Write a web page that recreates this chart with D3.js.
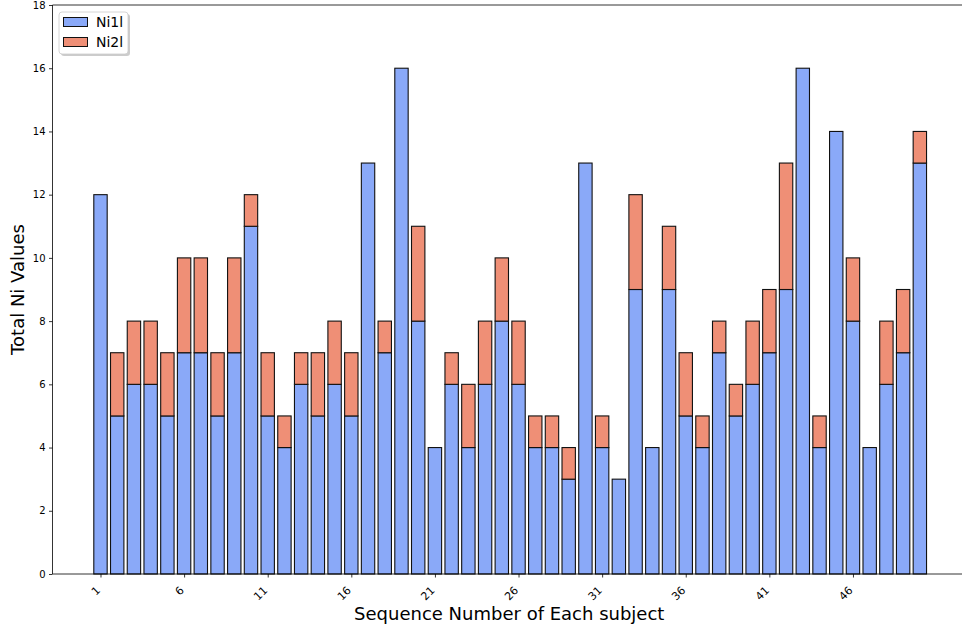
<!DOCTYPE html>
<html>
<head>
<meta charset="utf-8">
<script src="https://cdn.jsdelivr.net/npm/d3@7"></script>
<style>
  html, body { margin: 0; padding: 0; background: #fff; }
  svg { display: block; font-family: "DejaVu Sans", sans-serif; }
</style>
</head>
<body>
<svg id="chart" width="962" height="630"></svg>
<script>
const subjects = d3.range(1, 51);
const ni1l = [12,5,6,6,5,7,7,5,7,11, 5,4,6,5,6,5,13,7,16,8, 4,6,4,6,8,6,4,4,3,13, 4,3,9,4,9,5,4,7,5,6, 7,9,16,4,14,8,4,6,7,13];
const ni2l = [0,2,2,2,2,3,3,2,3,1, 2,1,1,2,2,2,0,1,0,3, 0,1,2,2,2,2,1,1,1,0, 1,0,3,0,2,2,1,1,1,2, 2,4,0,1,0,2,0,2,2,1];
const yTicks = [0,2,4,6,8,10,12,14,16,18];
const xTickSubjects = [1,6,11,16,21,26,31,36,41,46];
const seriesNames = ["Ni1l", "Ni2l"];
const seriesColors = ["#8aa9f8", "#ef8f76"];

const svg = d3.select("#chart");
const L = 52.5, R = 966, T = 5, B = 574;

const x = d3.scaleLinear().domain([-2.87, 51.76]).range([L, R]);
const y = d3.scaleLinear().domain([0, 18]).range([B, T]);
const barW = x(0.8) - x(0);

const rows = subjects.map((s, i) => ({ s, i, a: ni1l[i], b: ni2l[i] }));

// bars: Ni1l
svg.append("g").selectAll("rect").data(rows).join("rect")
  .attr("x", d => x(d.i) - barW / 2)
  .attr("width", barW)
  .attr("y", d => y(d.a))
  .attr("height", d => y(0) - y(d.a))
  .attr("fill", seriesColors[0])
  .attr("stroke", "#111")
  .attr("stroke-width", 1.1);

// bars: Ni2l stacked
svg.append("g").selectAll("rect").data(rows).join("rect")
  .attr("x", d => x(d.i) - barW / 2)
  .attr("width", barW)
  .attr("y", d => y(d.a + d.b))
  .attr("height", d => y(d.a) - y(d.a + d.b))
  .attr("fill", seriesColors[1])
  .attr("stroke", "#111")
  .attr("stroke-width", 1.1);

// Axes
const yAxis = d3.axisLeft(y).tickValues(yTicks).tickSize(3.5).tickPadding(3.5).tickFormat(d3.format("d"));
const gy = svg.append("g").attr("transform", `translate(${L},0)`).call(yAxis);
gy.select(".domain").remove();
gy.selectAll("text").attr("font-size", 10).attr("fill", "#000").attr("font-family", "DejaVu Sans");
gy.selectAll("line").attr("stroke", "#000").attr("stroke-width", 0.8);

const xAxis = d3.axisBottom(x).tickValues(xTickSubjects.map(s => s - 1)).tickSize(3.5).tickFormat(d => String(d + 1));
const gx = svg.append("g").attr("transform", `translate(0,${B})`).call(xAxis);
gx.select(".domain").remove();
gx.selectAll("line").attr("stroke", "#000").attr("stroke-width", 0.8);
gx.selectAll("text")
  .attr("font-size", 11).attr("fill", "#000").attr("font-family", "DejaVu Sans")
  .attr("text-anchor", "end")
  .attr("y", 0).attr("dy", 0)
  .attr("transform", "translate(0,17) rotate(-45)");

// spines
svg.append("line").attr("x1", L).attr("x2", L).attr("y1", T).attr("y2", B).attr("stroke", "#000").attr("stroke-width", 0.8);
svg.append("line").attr("x1", L).attr("x2", R).attr("y1", B).attr("y2", B).attr("stroke", "#000").attr("stroke-width", 0.8);
svg.append("line").attr("x1", L).attr("x2", R).attr("y1", T).attr("y2", T).attr("stroke", "#000").attr("stroke-width", 0.8);
svg.append("line").attr("x1", R).attr("x2", R).attr("y1", T).attr("y2", B).attr("stroke", "#000").attr("stroke-width", 0.8);

// axis labels
svg.append("text").attr("x", (L + R) / 2).attr("y", 620)
  .attr("text-anchor", "middle").attr("font-size", 18).attr("fill", "#000")
  .text("Sequence Number of Each subject");
svg.append("text").attr("transform", `translate(24,${(T + B) / 2}) rotate(-90)`)
  .attr("text-anchor", "middle").attr("font-size", 18).attr("fill", "#000")
  .text("Total Ni Values");

// legend
const lg = svg.append("g").attr("transform", "translate(59,12)");
lg.append("rect").attr("x", 2).attr("y", 2).attr("width", 69).attr("height", 42).attr("rx", 3)
  .attr("fill", "#999").attr("opacity", 0.5);
lg.append("rect").attr("x", 0).attr("y", 0).attr("width", 69).attr("height", 42).attr("rx", 3)
  .attr("fill", "#fff").attr("stroke", "#ccc").attr("stroke-width", 0.8);
seriesNames.forEach((n, k) => {
  lg.append("rect").attr("x", 4.5).attr("y", 5.5 + k * 20).attr("width", 24).attr("height", 9)
    .attr("fill", seriesColors[k]).attr("stroke", "#111").attr("stroke-width", 1);
  lg.append("text").attr("x", 37).attr("y", 15 + k * 20).attr("font-size", 14).attr("fill", "#000").text(n);
});
</script>
</body>
</html>
